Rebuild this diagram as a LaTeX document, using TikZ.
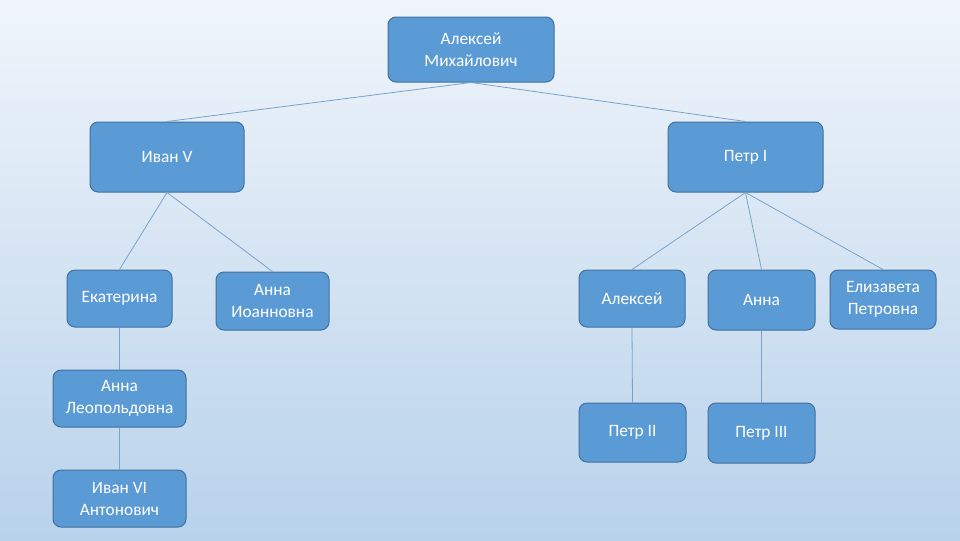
\documentclass[tikz,border=0pt]{standalone}
\usepackage{fontspec}
\setmainfont{Carlito}
\definecolor{boxfill}{RGB}{91,155,213}
\definecolor{boxline}{RGB}{65,113,156}
\definecolor{connc}{RGB}{125,162,200}
\definecolor{bgtop}{RGB}{240,245,251}
\definecolor{bgbot}{RGB}{184,210,235}
\begin{document}
\begin{tikzpicture}[x=0.75pt,y=-0.75pt,
  box/.style={draw=boxline, line width=0.75pt, fill=boxfill, rounded corners=6pt,
    text=white, align=center, font=\fontsize{13}{16.5}\selectfont, inner sep=0pt},
  conn/.style={draw=connc, line width=0.6pt}]
\shade[top color=bgtop, bottom color=bgbot] (0,0) rectangle (960,540);
\useasboundingbox (0,0) rectangle (960,540);

\node[box, minimum width=124.5pt, minimum height=48.75pt] (am) at (471,49.5) {Алексей\\Михайлович};
\node[box, minimum width=115.5pt, minimum height=52.5pt] (ivan5) at (167,157) {Иван V};
\node[box, minimum width=116.25pt, minimum height=52.5pt] (petr1) at (745.5,157) {Петр I};

\node[box, minimum width=78.75pt, minimum height=42.75pt] (ekat) at (119.5,298.5) {Екатерина};
\node[box, minimum width=84.75pt, minimum height=43.5pt] (annai) at (272.5,301) {Анна\\Иоанновна};
\node[box, minimum width=79.5pt, minimum height=42.75pt] (alex) at (632,298.5) {Алексей};
\node[box, minimum width=80.25pt, minimum height=45pt] (annap) at (761.5,300) {Анна};
\node[box, minimum width=79.5pt, minimum height=44.25pt] (eliz) at (883,299.5) {Елизавета\\Петровна};

\node[box, minimum width=99.75pt, minimum height=42.75pt] (annal) at (119.5,398.5) {Анна\\Леопольдовна};
\node[box, minimum width=99.75pt, minimum height=42.75pt] (ivan6) at (119.5,498.5) {Иван VI\\Антонович};
\node[box, minimum width=80.25pt, minimum height=44.25pt] (petr2) at (632.5,432.5) {Петр II};
\node[box, minimum width=80.25pt, minimum height=45pt] (petr3) at (761.5,433) {Петр III};

\draw[conn] (am.south) -- (ivan5.north);
\draw[conn] (am.south) -- (petr1.north);
\draw[conn] (ivan5.south) -- (ekat.north);
\draw[conn] (ivan5.south) -- (annai.north);
\draw[conn] (petr1.south) -- (alex.north);
\draw[conn] (petr1.south) -- (annap.north);
\draw[conn] (petr1.south) -- (eliz.north);
\draw[conn] (ekat.south) -- (annal.north);
\draw[conn] (annal.south) -- (ivan6.north);
\draw[conn] (alex.south) -- (petr2.north);
\draw[conn] (annap.south) -- (petr3.north);
\end{tikzpicture}
\end{document}
